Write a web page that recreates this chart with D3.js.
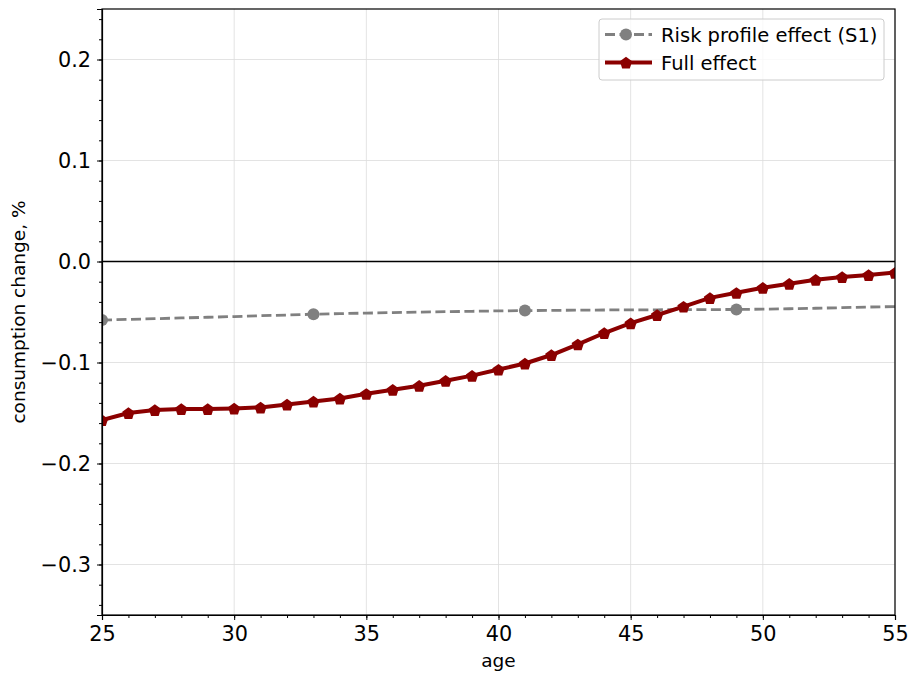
<!DOCTYPE html>
<html>
<head>
<meta charset="utf-8">
<script src="https://cdn.jsdelivr.net/npm/d3@7"></script>
<style>
  body { margin: 0; background: #fff; }
  svg { font-family: "DejaVu Sans", sans-serif; }
</style>
</head>
<body>
<div id="chart"></div>
<script>
// ages 25..55
const ages = d3.range(25, 56)
const fullEffect = [-0.157, -0.150, -0.147, -0.146, -0.146, -0.1455, -0.1445, -0.1415, -0.1386, -0.1356,
    -0.131, -0.127, -0.123, -0.118, -0.113, -0.107, -0.101, -0.0926, -0.082, -0.0708,
    -0.061, -0.053, -0.0446, -0.036, -0.031, -0.026, -0.022, -0.018, -0.0153, -0.0134, -0.011]
const riskEffect = [-0.058, -0.0573, -0.0566, -0.0559, -0.0552, -0.0545, -0.0537, -0.053, -0.0522, -0.0516,
    -0.0511, -0.0506, -0.0501, -0.0497, -0.0493, -0.0489, -0.0486, -0.0484, -0.0482, -0.048,
    -0.0479, -0.0478, -0.0477, -0.0476, -0.0475, -0.0472, -0.0468, -0.0463, -0.0457, -0.0451, -0.0446]
const xTicks = [25, 30, 35, 40, 45, 50, 55]
const yTicks = [-0.3, -0.2, -0.1, 0.0, 0.1, 0.2]
const seriesNames = ['Risk profile effect (S1)', 'Full effect']

const width = 911, height = 676
const margin = {top: 9, right: 16, bottom: 61, left: 102}
const innerW = width - margin.left - margin.right
const innerH = height - margin.top - margin.bottom

const grey = '#808080', red = '#8b0000'

const svg = d3.select('#chart').append('svg')
    .attr('width', width)
    .attr('height', height)

const g = svg.append('g')
    .attr('transform', `translate(${margin.left},${margin.top})`)

const xScale = d3.scaleLinear().domain([25, 55]).range([0, innerW])
const yScale = d3.scaleLinear().domain([-0.35, 0.25]).range([innerH, 0])

const fmt = d => d3.format('.1f')(d).replace('-', '\u2212')

// grid
g.append('g')
    .selectAll('line')
    .data(xTicks)
    .join('line')
    .attr('x1', d => xScale(d)).attr('x2', d => xScale(d))
    .attr('y1', 0).attr('y2', innerH)
    .attr('stroke', '#dcdcdc').attr('stroke-width', 0.8)
g.append('g')
    .selectAll('line')
    .data(yTicks)
    .join('line')
    .attr('y1', d => yScale(d)).attr('y2', d => yScale(d))
    .attr('x1', 0).attr('x2', innerW)
    .attr('stroke', '#dcdcdc').attr('stroke-width', 0.8)

// zero line
g.append('line')
    .attr('x1', 0).attr('x2', innerW)
    .attr('y1', yScale(0)).attr('y2', yScale(0))
    .attr('stroke', '#000').attr('stroke-width', 1.3)

svg.append('defs').append('clipPath').attr('id', 'clip')
    .append('rect').attr('width', innerW).attr('height', innerH)

const plot = g.append('g').attr('clip-path', 'url(#clip)')

const line = d3.line().x(d => xScale(d[0])).y(d => yScale(d[1]))

const riskData = ages.map((a, i) => [a, riskEffect[i]])
const fullData = ages.map((a, i) => [a, fullEffect[i]])

plot.append('path')
    .datum(riskData)
    .attr('d', line)
    .attr('fill', 'none')
    .attr('stroke', grey)
    .attr('stroke-width', 2.8)
    .attr('stroke-dasharray', '10,4.5')

// markers every 8th point
plot.selectAll('circle')
    .data(riskData.filter((d, i) => i % 8 === 0))
    .join('circle')
    .attr('cx', d => xScale(d[0]))
    .attr('cy', d => yScale(d[1]))
    .attr('r', 6)
    .attr('fill', grey)

plot.append('path')
    .datum(fullData)
    .attr('d', line)
    .attr('fill', 'none')
    .attr('stroke', red)
    .attr('stroke-width', 4)
    .attr('stroke-linejoin', 'round')

// no pentagon in d3, custom one
const pentagon = d3.symbol().type({
    draw(ctx, size) {
        const r = Math.sqrt(size / 1.72)
        for (let k = 0; k < 5; k++) {
            const a = -Math.PI / 2 + k * 2 * Math.PI / 5
            k ? ctx.lineTo(r * Math.cos(a), r * Math.sin(a)) : ctx.moveTo(r * Math.cos(a), r * Math.sin(a))
        }
        ctx.closePath()
    }
}).size(72)

plot.selectAll('path.full')
    .data(fullData)
    .join('path')
    .attr('class', 'full')
    .attr('d', pentagon)
    .attr('transform', d => `translate(${xScale(d[0])},${yScale(d[1]) + 0.8})`)
    .attr('fill', red)

// frame
g.append('rect')
    .attr('width', innerW).attr('height', innerH)
    .attr('fill', 'none').attr('stroke', '#000').attr('stroke-width', 1.2)

// axes
g.append('g')
    .attr('transform', `translate(0,${innerH})`)
    .call(d3.axisBottom(xScale).tickValues(xTicks).tickSize(5).tickPadding(6).tickFormat(d3.format('d')))
g.append('g')
    .attr('transform', `translate(0,${innerH})`)
    .call(d3.axisBottom(xScale).tickValues(ages).tickSize(3).tickFormat(''))
    .call(a => a.select('.domain').remove())

g.append('g')
    .call(d3.axisLeft(yScale).tickValues(yTicks).tickSize(5).tickPadding(6).tickFormat(fmt))
g.append('g')
    .call(d3.axisLeft(yScale).tickValues(d3.range(-34, 25, 2).map(v => v / 100)).tickSize(3).tickFormat(''))
    .call(a => a.select('.domain').remove())

svg.selectAll('.tick text')
    .attr('font-size', 20.8)
    .attr('font-family', '"DejaVu Sans", sans-serif')
    .attr('fill', '#000')
svg.selectAll('.tick line').attr('stroke', '#000').attr('stroke-width', 1)
svg.selectAll('.domain').attr('stroke', '#000').attr('stroke-width', 1.2)

// axis labels
svg.append('text')
    .attr('x', margin.left + innerW / 2)
    .attr('y', 667)
    .attr('text-anchor', 'middle')
    .attr('font-size', 18.5)
    .text('age')
svg.append('text')
    .attr('transform', `translate(25,${margin.top + innerH / 2}) rotate(-90)`)
    .attr('text-anchor', 'middle')
    .attr('font-size', 18.5)
    .text('consumption change, %')

// legend
const legend = svg.append('g').attr('transform', 'translate(599,19)')
legend.append('rect')
    .attr('width', 285).attr('height', 61)
    .attr('rx', 3)
    .attr('fill', '#fff').attr('fill-opacity', 0.8)
    .attr('stroke', '#cccccc')

const rows = legend.selectAll('g.row')
    .data(seriesNames)
    .join('g')
    .attr('class', 'row')
    .attr('transform', (d, i) => `translate(0,${15.5 + i * 28})`)

rows.append('line')
    .attr('x1', 6).attr('x2', 53)
    .attr('stroke', (d, i) => i === 0 ? grey : red)
    .attr('stroke-width', (d, i) => i === 0 ? 2.8 : 4)
    .attr('stroke-dasharray', (d, i) => i === 0 ? '10,4.5' : null)
rows.filter((d, i) => i === 0).append('circle')
    .attr('cx', 27).attr('r', 6).attr('fill', grey)
rows.filter((d, i) => i === 1).append('path')
    .attr('d', pentagon).attr('transform', 'translate(27,0.8)').attr('fill', red)
rows.append('text')
    .attr('x', 62).attr('y', 7)
    .attr('font-size', 19.5)
    .text(d => d)
</script>
</body>
</html>
